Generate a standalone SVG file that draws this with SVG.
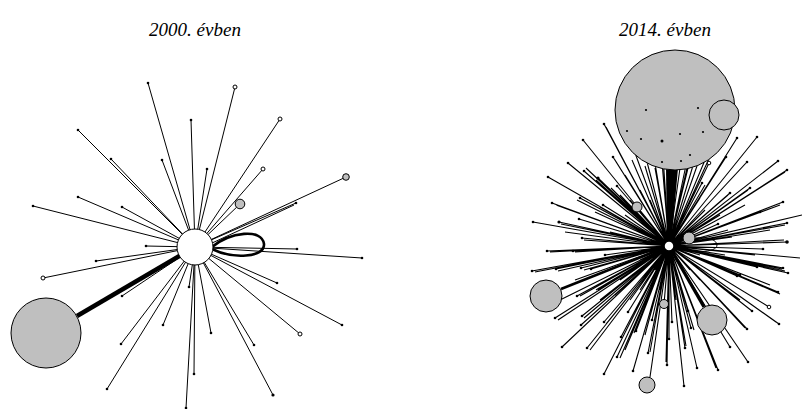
<svg xmlns="http://www.w3.org/2000/svg" width="802" height="409" viewBox="0 0 802 409">
<style>
.t{font-family:"Liberation Serif",serif;font-style:italic;font-size:19px;fill:#000}
.e{stroke:#000;stroke-width:1;fill:none}
.er{stroke:#000;stroke-width:1.1;fill:none}
.d{fill:#000}
.o{fill:#fff;stroke:#000;stroke-width:1}
.g{fill:#bfbfbf;stroke:#000;stroke-width:1}
.hub{fill:#fff;stroke:#000;stroke-width:1}
</style>
<text class="t" x="195" y="36" text-anchor="middle">2000. évben</text>
<text class="t" x="665" y="36" text-anchor="middle">2014. évben</text>

<g id="left-connectors">
<path class="e" d="M195 247L148 83M195 247L191 120M195 247L78 130M195 247L111 159M195 247L162 160M195 247L78 197M195 247L33 206M195 247L122 207M195 247L146 246M195 247L235 87M195 247L280 119M195 247L207 169M195 247L263 169M195 247L346 177M195 247L240 204M195 247L296 203M197 250L294 205M195 247L297 249M195 247L362 258M195 247L277 283M195 247L342 325M195 247L300 334M195 247L254 345M195 247L273 395M195 247L211 333M195 247L194 374M195 247L186 408M195 247L189 287M195 247L163 325M195 247L121 344M195 247L107 389M195 247L122 296M195 247L43 278M195 247L96 261"/>
<path d="M77 316L181 255" stroke="#000" stroke-width="4.5" fill="none"/>
<path d="M212 247C230 232 262 228 264 244C265 258 232 259 212 249" stroke="#000" stroke-width="2.6" fill="none"/>
</g>
<g id="left-leaves">
<g class="d">
<circle cx="148" cy="83" r="1.3"/><circle cx="191" cy="120" r="1.3"/><circle cx="78" cy="130" r="1.3"/><circle cx="111" cy="159" r="1.3"/><circle cx="162" cy="160" r="1.3"/><circle cx="78" cy="197" r="1.3"/><circle cx="33" cy="206" r="1.3"/><circle cx="122" cy="207" r="1.3"/><circle cx="146" cy="246" r="1.3"/><circle cx="207" cy="169" r="1.3"/><circle cx="296" cy="203" r="1.3"/><circle cx="297" cy="249" r="1.3"/><circle cx="362" cy="258" r="1.3"/><circle cx="277" cy="283" r="1.3"/><circle cx="342" cy="325" r="1.3"/><circle cx="254" cy="345" r="1.3"/><circle cx="273" cy="395" r="1.6"/><circle cx="211" cy="333" r="1.3"/><circle cx="194" cy="374" r="1.3"/><circle cx="186" cy="408" r="1.3"/><circle cx="189" cy="287" r="1.3"/><circle cx="163" cy="325" r="1.3"/><circle cx="121" cy="344" r="1.3"/><circle cx="107" cy="389" r="1.3"/><circle cx="122" cy="296" r="1.3"/><circle cx="96" cy="261" r="1.3"/>
</g>
<circle class="o" cx="235" cy="87" r="2"/><circle class="o" cx="280" cy="119" r="2"/><circle class="o" cx="263" cy="169" r="2"/><circle class="o" cx="300" cy="334" r="2"/><circle class="o" cx="43" cy="278" r="2"/>
<circle class="g" cx="346" cy="177" r="3.3"/>
<circle class="g" cx="240" cy="204" r="4.8"/>
</g>
<g id="left-big"><circle class="g" cx="46" cy="333" r="35"/></g>
<g id="left-hub"><circle class="hub" cx="195" cy="247" r="18"/></g>

<g id="right-connectors">
<path class="er" d="M669 246L604 124M669 246L583 140M669 246L613 157M669 246L568 163M669 246L548 177M669 246L584 171M669 246L598 178M669 246L617 186M669 246L552 203M669 246L580 198M669 246L603 205M669 246L533 222M669 246L559 222M669 246L579 219M669 246L582 238M669 246L547 251M669 246L573 251M669 246L620 195M669 246L630 200M669 246L590 230M669 246L610 232M669 246L565 232M669 246L595 212M669 246L640 190M669 246L625 175M669 246L646 110M669 246L698 108M669 246L627 131M669 246L641 139M669 246L662 141M669 246L680 134M669 246L703 132M669 246L662 162M669 246L681 161M669 246L690 155M669 246L632 160M669 246L645 166M669 246L655 168M669 246L688 168M669 246L697 166M669 246L705 160M669 246L713 150M669 246L737 138M669 246L757 137M669 246L778 161M669 246L747 162M669 246L787 170M669 246L709 163M669 246L726 157M669 246L702 183M669 246L730 193M669 246L750 188M669 246L783 202M669 246L760 212M669 246L802 215M669 246L787 223M669 246L718 224M669 246L728 230M669 246L787 242M669 246L732 237M669 246L763 249M669 246L800 258M669 246L740 275M669 246L757 267M669 246L783 268M669 246L788 273M669 246L782 269M669 246L737 276M669 246L779 324M669 246L769 307M669 246L778 292M669 246L752 311M669 246L747 329M669 246L730 347M669 246L748 362M669 246L718 370M669 246L697 368M669 246L684 386M669 246L667 365M669 246L669 339M669 246L685 348M669 246L672 322M669 246L688 311M669 246L691 328M669 246L652 320M669 246L648 353M669 246L633 371M669 246L636 331M669 246L628 312M669 246L621 337M669 246L617 357M669 246L604 374M669 246L604 322M669 246L587 348M669 246L562 347M669 246L582 316M669 246L581 325M669 246L555 318M669 246L577 296M669 246L599 289M669 246L532 271M669 246L556 269M669 246L581 268M669 246L591 269M669 246L605 255M669 246L637 207M669 246L689 238M669 246L664 304M669 246L650 377M669 246L720 215M669 246L745 205M669 246L770 230M669 246L770 285M669 246L740 300M669 246L710 290M669 246L660 290M669 246L640 290M669 246L620 280M669 246L600 300M669 246L625 350M669 246L645 335M669 246L676 300M669 246L700 280M669 246L725 255M669 246L755 255M669 246L705 210M669 246L700 198M669 246L650 200M669 246L600 260M669 246L575 280M669 246L560 300M669 246L586 168M669 246L556 205M669 246L596 180M669 246L577 200M669 246L561 224M669 246L584 240M669 246L575 252M669 246L550 252M669 246L535 272M669 246L558 271M669 246L584 270M669 246L580 296M669 246L596 290M669 246L558 320M669 246L584 318M669 246L606 324M669 246L590 350M669 246L620 358M669 246L634 333M669 246L650 352M669 246L666 362M669 246L686 346M669 246L694 330M669 246L716 368M669 246L745 328M669 246L776 322M669 246L780 294M669 246L785 271M669 246L760 266M669 246L784 240M669 246L785 225M669 246L780 205M669 246L748 190M669 246L785 172M669 246L745 164M669 246L728 195M669 246L705 185M669 246L724 159M669 246L615 160M669 246L606 127M669 246L611 188M669 246L600 207M669 246L625 215M669 246L640 230M669 246L700 255M669 246L690 270M669 246L655 270M669 246L640 260M669 246L615 295M669 246L630 300M669 246L700 300"/>
<path d="M669 246L561 289" stroke="#000" stroke-width="2.6"/>
<path d="M669 246L704 307" stroke="#000" stroke-width="3.2"/>
<path d="M666 168L678 168L671 246L667 246Z" fill="#000"/>
<path d="M672 244C690 236 716 235 717 245C717 253 690 254 672 248" stroke="#000" stroke-width="1" fill="none"/>
</g>
<g id="right-leaves">
<g class="d">
<circle cx="604" cy="124" r="1.3"/><circle cx="583" cy="140" r="1.3"/><circle cx="613" cy="157" r="1.3"/><circle cx="568" cy="163" r="1.3"/><circle cx="548" cy="177" r="1.3"/><circle cx="584" cy="171" r="1.3"/><circle cx="598" cy="178" r="1.6"/><circle cx="617" cy="186" r="1.3"/><circle cx="552" cy="203" r="1.3"/><circle cx="580" cy="198" r="1.3"/><circle cx="603" cy="205" r="1.3"/><circle cx="533" cy="222" r="1.3"/><circle cx="559" cy="222" r="1.6"/><circle cx="579" cy="219" r="1.3"/><circle cx="582" cy="238" r="1.3"/><circle cx="547" cy="251" r="1.3"/><circle cx="573" cy="251" r="1.3"/>
<circle cx="737" cy="138" r="1.3"/><circle cx="757" cy="137" r="1.3"/><circle cx="778" cy="161" r="1.3"/><circle cx="747" cy="162" r="1.3"/><circle cx="787" cy="170" r="1.3"/><circle cx="726" cy="157" r="1.3"/><circle cx="702" cy="183" r="1.3"/><circle cx="730" cy="193" r="1.3"/><circle cx="750" cy="188" r="1.3"/><circle cx="783" cy="202" r="1.3"/><circle cx="760" cy="212" r="1.3"/><circle cx="787" cy="223" r="1.3"/><circle cx="718" cy="224" r="1.3"/><circle cx="787" cy="242" r="1.8"/><circle cx="763" cy="249" r="1.3"/><circle cx="740" cy="275" r="1.3"/><circle cx="757" cy="267" r="1.3"/><circle cx="783" cy="268" r="1.3"/><circle cx="788" cy="273" r="1.3"/><circle cx="737" cy="276" r="1.3"/>
<circle cx="779" cy="324" r="1.3"/><circle cx="778" cy="292" r="1.3"/><circle cx="752" cy="311" r="1.3"/><circle cx="747" cy="329" r="1.3"/><circle cx="730" cy="347" r="1.3"/><circle cx="748" cy="362" r="1.3"/><circle cx="718" cy="370" r="1.3"/><circle cx="697" cy="368" r="1.3"/><circle cx="684" cy="386" r="1.3"/><circle cx="667" cy="365" r="1.3"/><circle cx="669" cy="339" r="1.3"/><circle cx="685" cy="348" r="1.3"/><circle cx="672" cy="322" r="1.3"/><circle cx="688" cy="311" r="1.3"/><circle cx="691" cy="328" r="1.3"/><circle cx="652" cy="320" r="1.3"/><circle cx="648" cy="353" r="1.3"/><circle cx="633" cy="371" r="1.3"/><circle cx="636" cy="331" r="1.3"/><circle cx="628" cy="312" r="1.3"/><circle cx="621" cy="337" r="1.3"/><circle cx="617" cy="357" r="1.3"/><circle cx="604" cy="374" r="1.3"/><circle cx="604" cy="322" r="1.3"/><circle cx="587" cy="348" r="1.3"/><circle cx="562" cy="347" r="1.3"/><circle cx="582" cy="316" r="1.3"/><circle cx="581" cy="325" r="1.3"/><circle cx="555" cy="318" r="1.3"/><circle cx="577" cy="296" r="1.3"/><circle cx="599" cy="289" r="1.3"/><circle cx="532" cy="271" r="1.3"/><circle cx="556" cy="269" r="1.3"/><circle cx="581" cy="268" r="1.3"/><circle cx="591" cy="269" r="1.3"/><circle cx="605" cy="255" r="1.3"/>
</g>
<circle class="o" cx="709" cy="163" r="1.8"/><circle class="o" cx="769" cy="307" r="1.8"/>
<circle class="g" cx="637" cy="207" r="5"/>
<circle class="g" cx="689" cy="238" r="6"/>
<circle class="g" cx="664" cy="304" r="4.5"/>
<circle class="g" cx="647" cy="385" r="8"/>
<circle class="g" cx="546" cy="296" r="16"/>
<circle class="g" cx="712" cy="320" r="15"/>
</g>
<g id="right-big">
<circle class="g" cx="675" cy="110" r="60"/>
<circle class="g" cx="724" cy="115" r="15"/>
<g class="d">
<circle cx="646" cy="110" r="1.1"/><circle cx="698" cy="108" r="1.1"/><circle cx="627" cy="131" r="1.1"/><circle cx="641" cy="139" r="1.1"/><circle cx="662" cy="141" r="1.5"/><circle cx="680" cy="134" r="1.1"/><circle cx="703" cy="132" r="1.1"/><circle cx="662" cy="162" r="1.1"/><circle cx="681" cy="161" r="1.1"/><circle cx="690" cy="155" r="1.1"/>
</g>
</g>
<g id="right-hub"><circle cx="669" cy="246" r="5" fill="#fff" stroke="#000" stroke-width="1.5"/></g>
</svg>
